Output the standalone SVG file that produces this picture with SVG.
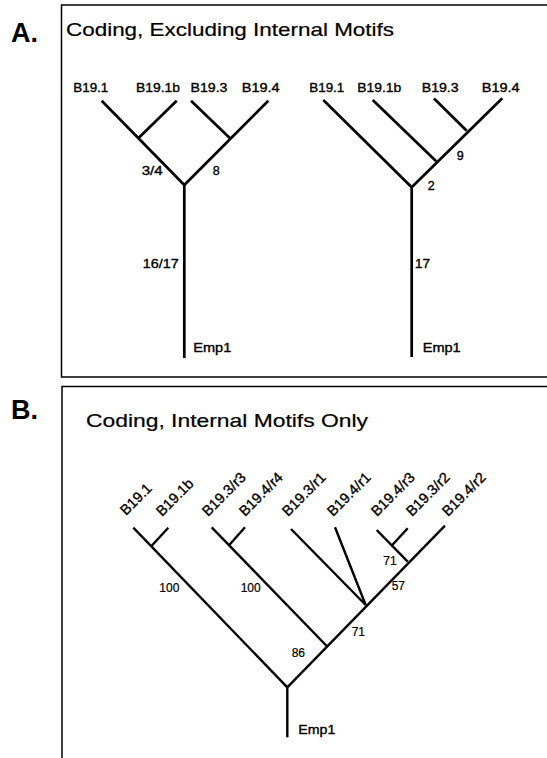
<svg xmlns="http://www.w3.org/2000/svg" width="547" height="758" viewBox="0 0 547 758">
<style>
text{font-family:"Liberation Sans",Arial,sans-serif;fill:#000}
.panel{font-weight:bold;font-size:27px}
.title{font-size:18.5px;stroke:#000;stroke-width:0.2}
.lab{font-size:12.5px;stroke:#000;stroke-width:0.35}
.num{font-size:12.5px;stroke:#000;stroke-width:0.35}
.rl{font-size:14.5px;stroke:#000;stroke-width:0.35}
.sn{font-size:12px;stroke:#000;stroke-width:0.2}
.frame{stroke:#000;stroke-width:1.5;fill:none}
.ea line{stroke:#000;stroke-width:2.7;fill:none}
.eb line{stroke:#000;stroke-width:2.4;fill:none}
</style>
<rect width="547" height="758" fill="#fff"/>
<g id="frames">
<polyline class="frame" points="547,5 61.5,5 61.5,377 547,377"/>
<polyline class="frame" points="547,386.5 62,386.5 62,758"/>
</g>
<g id="headers">
<text class="panel" x="11" y="42">A.</text>
<text class="title" x="66" y="36" textLength="328" lengthAdjust="spacingAndGlyphs">Coding, Excluding Internal Motifs</text>
<text class="panel" x="11" y="419">B.</text>
<text class="title" x="86" y="427" textLength="282" lengthAdjust="spacingAndGlyphs">Coding, Internal Motifs Only</text>
</g>
<g id="connectors">
<g class="ea">
<line x1="101.7" y1="100.7" x2="184.3" y2="185"/>
<line x1="176.7" y1="100.7" x2="138.3" y2="138.3"/>
<line x1="191" y1="100.7" x2="230" y2="138.3"/>
<line x1="268.3" y1="100.7" x2="184.3" y2="185"/>
<line x1="184.3" y1="185" x2="184.3" y2="358"/>
<line x1="323.3" y1="100" x2="411.7" y2="187.3"/>
<line x1="372.7" y1="100" x2="436.7" y2="161.7"/>
<line x1="434" y1="98.5" x2="466.7" y2="130.7"/>
<line x1="502.3" y1="98.3" x2="411.7" y2="187.3"/>
<line x1="411.7" y1="187.3" x2="411.7" y2="357"/>
</g>
<g class="eb">
<line x1="133.3" y1="527.7" x2="287.3" y2="687.3"/>
<line x1="168.3" y1="527.7" x2="151.7" y2="545.7"/>
<line x1="211.7" y1="527.3" x2="326.7" y2="646"/>
<line x1="245" y1="527.3" x2="229.3" y2="545"/>
<line x1="287.3" y1="687.3" x2="445" y2="525.7"/>
<line x1="291" y1="529" x2="365.7" y2="605"/>
<line x1="335" y1="527.3" x2="365.7" y2="605"/>
<line x1="376.7" y1="530" x2="407.7" y2="561.7"/>
<line x1="407.7" y1="528.3" x2="392.3" y2="545"/>
<line x1="287.3" y1="687.3" x2="287.3" y2="737.3"/>
</g>
</g>
<g id="treeA1">
<text class="lab" x="73.3" y="92" textLength="35" lengthAdjust="spacingAndGlyphs">B19.1</text>
<text class="lab" x="136" y="92" textLength="44" lengthAdjust="spacingAndGlyphs">B19.1b</text>
<text class="lab" x="190.5" y="92" textLength="37" lengthAdjust="spacingAndGlyphs">B19.3</text>
<text class="lab" x="241.7" y="92" textLength="38" lengthAdjust="spacingAndGlyphs">B19.4</text>
<text class="num" x="141.7" y="175" textLength="21" lengthAdjust="spacingAndGlyphs">3/4</text>
<text class="num" x="212.7" y="175">8</text>
<text class="num" x="142.7" y="268" textLength="36" lengthAdjust="spacingAndGlyphs">16/17</text>
<text class="lab" x="193.3" y="352" textLength="38" lengthAdjust="spacingAndGlyphs">Emp1</text>
</g>
<g id="treeA2">
<text class="lab" x="309.3" y="92" textLength="35" lengthAdjust="spacingAndGlyphs">B19.1</text>
<text class="lab" x="357.3" y="92" textLength="44" lengthAdjust="spacingAndGlyphs">B19.1b</text>
<text class="lab" x="421.7" y="92" textLength="37" lengthAdjust="spacingAndGlyphs">B19.3</text>
<text class="lab" x="481.7" y="92" textLength="38" lengthAdjust="spacingAndGlyphs">B19.4</text>
<text class="num" x="456.7" y="160">9</text>
<text class="num" x="427.7" y="190">2</text>
<text class="num" x="415" y="268" textLength="15" lengthAdjust="spacingAndGlyphs">17</text>
<text class="lab" x="422.7" y="352" textLength="38" lengthAdjust="spacingAndGlyphs">Emp1</text>
</g>
<g id="treeB">
<text class="rl" transform="translate(126,516) rotate(-45)">B19.1</text>
<text class="rl" transform="translate(162,517) rotate(-45)">B19.1b</text>
<text class="rl" transform="translate(208,517) rotate(-45)">B19.3/r3</text>
<text class="rl" transform="translate(245,517) rotate(-45)">B19.4/r4</text>
<text class="rl" transform="translate(288,517) rotate(-45)">B19.3/r1</text>
<text class="rl" transform="translate(333,517) rotate(-45)">B19.4/r1</text>
<text class="rl" transform="translate(377,517) rotate(-45)">B19.4/r3</text>
<text class="rl" transform="translate(412,517) rotate(-45)">B19.3/r2</text>
<text class="rl" transform="translate(448,517) rotate(-45)">B19.4/r2</text>
<text class="sn" x="159.3" y="591.7">100</text>
<text class="sn" x="240.7" y="591.7">100</text>
<text class="sn" x="383.3" y="565">71</text>
<text class="sn" x="391.7" y="590">57</text>
<text class="sn" x="351.7" y="636">71</text>
<text class="sn" x="291.7" y="657.3">86</text>
<text class="lab" x="298.3" y="734" textLength="37" lengthAdjust="spacingAndGlyphs">Emp1</text>
</g>
</svg>
